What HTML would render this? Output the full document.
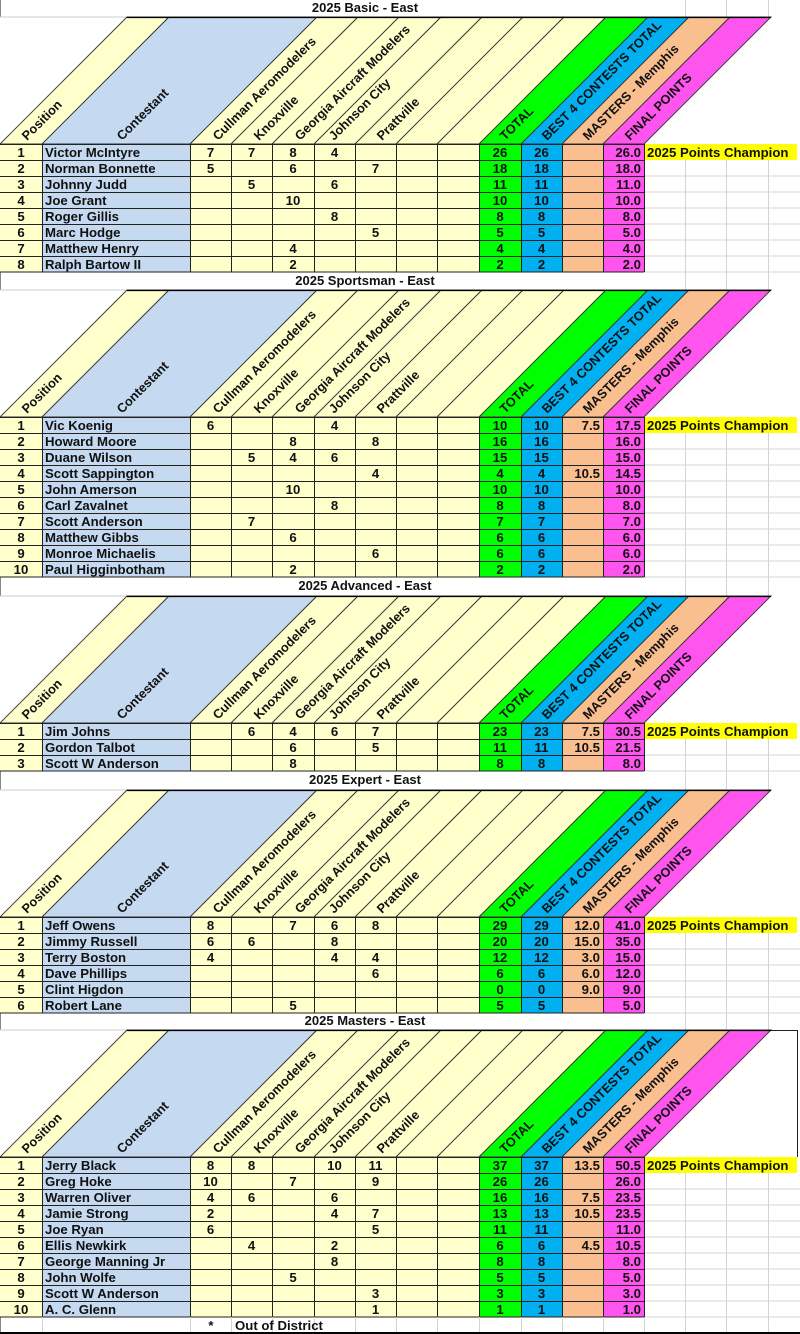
<!DOCTYPE html>
<html><head><meta charset="utf-8"><style>
html,body{margin:0;padding:0;background:#fff;}
svg{display:block;}
text{font-family:"Liberation Sans",Arial,sans-serif;font-weight:bold;font-size:13.2px;fill:#111;}
.c{text-anchor:middle;}
.r{text-anchor:end;}
.t{font-size:13px;text-anchor:middle;}
.h{font-size:12.8px;}
</style></head><body>
<svg width="800" height="1334" viewBox="0 0 800 1334" xmlns="http://www.w3.org/2000/svg">
<defs>
<g id="hd">
<rect x="0" y="0" width="800" height="127" fill="#fff"/>
<line x1="0" y1="0" x2="127" y2="0" stroke="#ccc" stroke-width="1"/>
<g stroke="#333" stroke-width="0.9">
<polygon points="0,127 42,127 169,0 127,0" fill="#FFFFCC"/>
<polygon points="42,127 190,127 317,0 169,0" fill="#C5D9F1"/>
<polygon points="190,127 231,127 358,0 317,0" fill="#FFFFCC"/>
<polygon points="231,127 272,127 399,0 358,0" fill="#FFFFCC"/>
<polygon points="272,127 314,127 441,0 399,0" fill="#FFFFCC"/>
<polygon points="314,127 355,127 482,0 441,0" fill="#FFFFCC"/>
<polygon points="355,127 396,127 523,0 482,0" fill="#FFFFCC"/>
<polygon points="396,127 437,127 564,0 523,0" fill="#FFFFCC"/>
<polygon points="437,127 479,127 606,0 564,0" fill="#FFFFCC"/>
<polygon points="479,127 521,127 648,0 606,0" fill="#00FF00"/>
<polygon points="521,127 562,127 689,0 648,0" fill="#00B0F0"/>
<polygon points="562,127 603,127 730,0 689,0" fill="#FABF8F"/>
<polygon points="603,127 644,127 771,0 730,0" fill="#FF55EE"/>
</g>
<line x1="127" y1="0.5" x2="771" y2="0.5" stroke="#000" stroke-width="1.2"/>
</g>
<g id="ht">
<text class="h" transform="translate(27,124) rotate(-45)">Position</text>
<text class="h" transform="translate(122,124) rotate(-45)">Contestant</text>
<text class="h" transform="translate(218,124) rotate(-45)">Cullman Aeromodelers</text>
<text class="h" transform="translate(259,124) rotate(-45)">Knoxville</text>
<text class="h" transform="translate(300,124) rotate(-45)">Georgia Aircraft Modelers</text>
<text class="h" transform="translate(334,124) rotate(-45)">Johnson City</text>
<text class="h" transform="translate(382,124) rotate(-45)">Prattville</text>
<text class="h" transform="translate(505,124) rotate(-45)">TOTAL</text>
<text class="h" transform="translate(547,124) rotate(-45)">BEST 4 CONTESTS TOTAL</text>
<text class="h" transform="translate(588,124) rotate(-45)">MASTERS - Memphis</text>
<text class="h" transform="translate(630,124) rotate(-45)">FINAL POINTS</text>
</g>
</defs>

<g stroke="#d4d4d4" stroke-width="1">
<line x1="685.5" y1="0" x2="685.5" y2="1334"/>
<line x1="726.5" y1="0" x2="726.5" y2="1334"/>
<line x1="768.5" y1="0" x2="768.5" y2="1334"/>
</g>
<line x1="0.5" y1="0" x2="0.5" y2="1334" stroke="#888"/>

<!-- BASIC -->
<text class="t" x="365" y="12">2025 Basic - East</text>
<use href="#hd" x="0" y="17"/>
<g transform="translate(0,17)"><use href="#ht"/></g>
<g transform="translate(0,144)">
<rect x="0" y="0" width="42" height="128" fill="#FFFFCC"/><rect x="42" y="0" width="148" height="128" fill="#C5D9F1"/><rect x="190" y="0" width="289" height="128" fill="#FFFFCC"/><rect x="479" y="0" width="42" height="128" fill="#00FF00"/><rect x="521" y="0" width="41" height="128" fill="#00B0F0"/><rect x="562" y="0" width="41" height="128" fill="#FABF8F"/><rect x="603" y="0" width="41" height="128" fill="#FF55EE"/>
<rect x="644" y="0" width="153" height="16" fill="#FFFF00"/>
<path d="M644 32H800M644 48H800M644 64H800M644 80H800M644 96H800M644 112H800M644 128H800" stroke="#d4d4d4"/>
<path d="M0 0.5H644M0 16.5H644M0 32.5H644M0 48.5H644M0 64.5H644M0 80.5H644M0 96.5H644M0 112.5H644M0 128H644M42.5 0V128M190.5 0V128M231.5 0V128M272.5 0V128M314.5 0V128M355.5 0V128M396.5 0V128M437.5 0V128M479.5 0V128M521.5 0V128M562.5 0V128M603.5 0V128M644.5 0V128" stroke="#222" fill="none"/>
<text class="c" x="21" y="13">1</text><text x="45" y="13">Victor McIntyre</text><text class="c" x="210.5" y="13">7</text><text class="c" x="251.5" y="13">7</text><text class="c" x="293" y="13">8</text><text class="c" x="334.5" y="13">4</text><text class="c" x="500" y="13">26</text><text class="c" x="541.5" y="13">26</text><text class="r" x="641" y="13">26.0</text><text x="647" y="13">2025 Points Champion</text>
<text class="c" x="21" y="29">2</text><text x="45" y="29">Norman Bonnette</text><text class="c" x="210.5" y="29">5</text><text class="c" x="293" y="29">6</text><text class="c" x="375.5" y="29">7</text><text class="c" x="500" y="29">18</text><text class="c" x="541.5" y="29">18</text><text class="r" x="641" y="29">18.0</text>
<text class="c" x="21" y="45">3</text><text x="45" y="45">Johnny Judd</text><text class="c" x="251.5" y="45">5</text><text class="c" x="334.5" y="45">6</text><text class="c" x="500" y="45">11</text><text class="c" x="541.5" y="45">11</text><text class="r" x="641" y="45">11.0</text>
<text class="c" x="21" y="61">4</text><text x="45" y="61">Joe Grant</text><text class="c" x="293" y="61">10</text><text class="c" x="500" y="61">10</text><text class="c" x="541.5" y="61">10</text><text class="r" x="641" y="61">10.0</text>
<text class="c" x="21" y="77">5</text><text x="45" y="77">Roger Gillis</text><text class="c" x="334.5" y="77">8</text><text class="c" x="500" y="77">8</text><text class="c" x="541.5" y="77">8</text><text class="r" x="641" y="77">8.0</text>
<text class="c" x="21" y="93">6</text><text x="45" y="93">Marc Hodge</text><text class="c" x="375.5" y="93">5</text><text class="c" x="500" y="93">5</text><text class="c" x="541.5" y="93">5</text><text class="r" x="641" y="93">5.0</text>
<text class="c" x="21" y="109">7</text><text x="45" y="109">Matthew Henry</text><text class="c" x="293" y="109">4</text><text class="c" x="500" y="109">4</text><text class="c" x="541.5" y="109">4</text><text class="r" x="641" y="109">4.0</text>
<text class="c" x="21" y="125">8</text><text x="45" y="125">Ralph Bartow II</text><text class="c" x="293" y="125">2</text><text class="c" x="500" y="125">2</text><text class="c" x="541.5" y="125">2</text><text class="r" x="641" y="125">2.0</text>
</g>

<!-- SPORTSMAN -->
<text class="t" x="365" y="285">2025 Sportsman - East</text>
<use href="#hd" x="0" y="290"/>
<g transform="translate(0,290)"><use href="#ht"/></g>
<g transform="translate(0,417)">
<rect x="0" y="0" width="42" height="160" fill="#FFFFCC"/><rect x="42" y="0" width="148" height="160" fill="#C5D9F1"/><rect x="190" y="0" width="289" height="160" fill="#FFFFCC"/><rect x="479" y="0" width="42" height="160" fill="#00FF00"/><rect x="521" y="0" width="41" height="160" fill="#00B0F0"/><rect x="562" y="0" width="41" height="160" fill="#FABF8F"/><rect x="603" y="0" width="41" height="160" fill="#FF55EE"/>
<rect x="644" y="0" width="153" height="16" fill="#FFFF00"/>
<path d="M644 32H800M644 48H800M644 64H800M644 80H800M644 96H800M644 112H800M644 128H800M644 144H800M644 160H800" stroke="#d4d4d4"/>
<path d="M0 0.5H644M0 16.5H644M0 32.5H644M0 48.5H644M0 64.5H644M0 80.5H644M0 96.5H644M0 112.5H644M0 128.5H644M0 144.5H644M0 160H644M42.5 0V160M190.5 0V160M231.5 0V160M272.5 0V160M314.5 0V160M355.5 0V160M396.5 0V160M437.5 0V160M479.5 0V160M521.5 0V160M562.5 0V160M603.5 0V160M644.5 0V160" stroke="#222" fill="none"/>
<text class="c" x="21" y="13">1</text><text x="45" y="13">Vic Koenig</text><text class="c" x="210.5" y="13">6</text><text class="c" x="334.5" y="13">4</text><text class="c" x="500" y="13">10</text><text class="c" x="541.5" y="13">10</text><text class="r" x="600" y="13">7.5</text><text class="r" x="641" y="13">17.5</text><text x="647" y="13">2025 Points Champion</text>
<text class="c" x="21" y="29">2</text><text x="45" y="29">Howard Moore</text><text class="c" x="293" y="29">8</text><text class="c" x="375.5" y="29">8</text><text class="c" x="500" y="29">16</text><text class="c" x="541.5" y="29">16</text><text class="r" x="641" y="29">16.0</text>
<text class="c" x="21" y="45">3</text><text x="45" y="45">Duane Wilson</text><text class="c" x="251.5" y="45">5</text><text class="c" x="293" y="45">4</text><text class="c" x="334.5" y="45">6</text><text class="c" x="500" y="45">15</text><text class="c" x="541.5" y="45">15</text><text class="r" x="641" y="45">15.0</text>
<text class="c" x="21" y="61">4</text><text x="45" y="61">Scott Sappington</text><text class="c" x="375.5" y="61">4</text><text class="c" x="500" y="61">4</text><text class="c" x="541.5" y="61">4</text><text class="r" x="600" y="61">10.5</text><text class="r" x="641" y="61">14.5</text>
<text class="c" x="21" y="77">5</text><text x="45" y="77">John Amerson</text><text class="c" x="293" y="77">10</text><text class="c" x="500" y="77">10</text><text class="c" x="541.5" y="77">10</text><text class="r" x="641" y="77">10.0</text>
<text class="c" x="21" y="93">6</text><text x="45" y="93">Carl Zavalnet</text><text class="c" x="334.5" y="93">8</text><text class="c" x="500" y="93">8</text><text class="c" x="541.5" y="93">8</text><text class="r" x="641" y="93">8.0</text>
<text class="c" x="21" y="109">7</text><text x="45" y="109">Scott Anderson</text><text class="c" x="251.5" y="109">7</text><text class="c" x="500" y="109">7</text><text class="c" x="541.5" y="109">7</text><text class="r" x="641" y="109">7.0</text>
<text class="c" x="21" y="125">8</text><text x="45" y="125">Matthew Gibbs</text><text class="c" x="293" y="125">6</text><text class="c" x="500" y="125">6</text><text class="c" x="541.5" y="125">6</text><text class="r" x="641" y="125">6.0</text>
<text class="c" x="21" y="141">9</text><text x="45" y="141">Monroe Michaelis</text><text class="c" x="375.5" y="141">6</text><text class="c" x="500" y="141">6</text><text class="c" x="541.5" y="141">6</text><text class="r" x="641" y="141">6.0</text>
<text class="c" x="21" y="157">10</text><text x="45" y="157">Paul Higginbotham</text><text class="c" x="293" y="157">2</text><text class="c" x="500" y="157">2</text><text class="c" x="541.5" y="157">2</text><text class="r" x="641" y="157">2.0</text>
</g>

<!-- ADVANCED -->
<text class="t" x="365" y="590">2025 Advanced - East</text>
<use href="#hd" x="0" y="596"/>
<g transform="translate(0,596)"><use href="#ht"/></g>
<g transform="translate(0,723)">
<rect x="0" y="0" width="42" height="48" fill="#FFFFCC"/><rect x="42" y="0" width="148" height="48" fill="#C5D9F1"/><rect x="190" y="0" width="289" height="48" fill="#FFFFCC"/><rect x="479" y="0" width="42" height="48" fill="#00FF00"/><rect x="521" y="0" width="41" height="48" fill="#00B0F0"/><rect x="562" y="0" width="41" height="48" fill="#FABF8F"/><rect x="603" y="0" width="41" height="48" fill="#FF55EE"/>
<rect x="644" y="0" width="153" height="16" fill="#FFFF00"/>
<path d="M644 32H800M644 48H800" stroke="#d4d4d4"/>
<path d="M0 0.5H644M0 16.5H644M0 32.5H644M0 48H644M42.5 0V48M190.5 0V48M231.5 0V48M272.5 0V48M314.5 0V48M355.5 0V48M396.5 0V48M437.5 0V48M479.5 0V48M521.5 0V48M562.5 0V48M603.5 0V48M644.5 0V48" stroke="#222" fill="none"/>
<text class="c" x="21" y="13">1</text><text x="45" y="13">Jim Johns</text><text class="c" x="251.5" y="13">6</text><text class="c" x="293" y="13">4</text><text class="c" x="334.5" y="13">6</text><text class="c" x="375.5" y="13">7</text><text class="c" x="500" y="13">23</text><text class="c" x="541.5" y="13">23</text><text class="r" x="600" y="13">7.5</text><text class="r" x="641" y="13">30.5</text><text x="647" y="13">2025 Points Champion</text>
<text class="c" x="21" y="29">2</text><text x="45" y="29">Gordon Talbot</text><text class="c" x="293" y="29">6</text><text class="c" x="375.5" y="29">5</text><text class="c" x="500" y="29">11</text><text class="c" x="541.5" y="29">11</text><text class="r" x="600" y="29">10.5</text><text class="r" x="641" y="29">21.5</text>
<text class="c" x="21" y="45">3</text><text x="45" y="45">Scott W Anderson</text><text class="c" x="293" y="45">8</text><text class="c" x="500" y="45">8</text><text class="c" x="541.5" y="45">8</text><text class="r" x="641" y="45">8.0</text>
</g>

<!-- EXPERT -->
<text class="t" x="365" y="784">2025 Expert - East</text>
<use href="#hd" x="0" y="790"/>
<g transform="translate(0,790)"><use href="#ht"/></g>
<g transform="translate(0,917)">
<rect x="0" y="0" width="42" height="96" fill="#FFFFCC"/><rect x="42" y="0" width="148" height="96" fill="#C5D9F1"/><rect x="190" y="0" width="289" height="96" fill="#FFFFCC"/><rect x="479" y="0" width="42" height="96" fill="#00FF00"/><rect x="521" y="0" width="41" height="96" fill="#00B0F0"/><rect x="562" y="0" width="41" height="96" fill="#FABF8F"/><rect x="603" y="0" width="41" height="96" fill="#FF55EE"/>
<rect x="644" y="0" width="153" height="16" fill="#FFFF00"/>
<path d="M644 32H800M644 48H800M644 64H800M644 80H800M644 96H800" stroke="#d4d4d4"/>
<path d="M0 0.5H644M0 16.5H644M0 32.5H644M0 48.5H644M0 64.5H644M0 80.5H644M0 96H644M42.5 0V96M190.5 0V96M231.5 0V96M272.5 0V96M314.5 0V96M355.5 0V96M396.5 0V96M437.5 0V96M479.5 0V96M521.5 0V96M562.5 0V96M603.5 0V96M644.5 0V96" stroke="#222" fill="none"/>
<text class="c" x="21" y="13">1</text><text x="45" y="13">Jeff Owens</text><text class="c" x="210.5" y="13">8</text><text class="c" x="293" y="13">7</text><text class="c" x="334.5" y="13">6</text><text class="c" x="375.5" y="13">8</text><text class="c" x="500" y="13">29</text><text class="c" x="541.5" y="13">29</text><text class="r" x="600" y="13">12.0</text><text class="r" x="641" y="13">41.0</text><text x="647" y="13">2025 Points Champion</text>
<text class="c" x="21" y="29">2</text><text x="45" y="29">Jimmy Russell</text><text class="c" x="210.5" y="29">6</text><text class="c" x="251.5" y="29">6</text><text class="c" x="334.5" y="29">8</text><text class="c" x="500" y="29">20</text><text class="c" x="541.5" y="29">20</text><text class="r" x="600" y="29">15.0</text><text class="r" x="641" y="29">35.0</text>
<text class="c" x="21" y="45">3</text><text x="45" y="45">Terry Boston</text><text class="c" x="210.5" y="45">4</text><text class="c" x="334.5" y="45">4</text><text class="c" x="375.5" y="45">4</text><text class="c" x="500" y="45">12</text><text class="c" x="541.5" y="45">12</text><text class="r" x="600" y="45">3.0</text><text class="r" x="641" y="45">15.0</text>
<text class="c" x="21" y="61">4</text><text x="45" y="61">Dave Phillips</text><text class="c" x="375.5" y="61">6</text><text class="c" x="500" y="61">6</text><text class="c" x="541.5" y="61">6</text><text class="r" x="600" y="61">6.0</text><text class="r" x="641" y="61">12.0</text>
<text class="c" x="21" y="77">5</text><text x="45" y="77">Clint Higdon</text><text class="c" x="500" y="77">0</text><text class="c" x="541.5" y="77">0</text><text class="r" x="600" y="77">9.0</text><text class="r" x="641" y="77">9.0</text>
<text class="c" x="21" y="93">6</text><text x="45" y="93">Robert Lane</text><text class="c" x="293" y="93">5</text><text class="c" x="500" y="93">5</text><text class="c" x="541.5" y="93">5</text><text class="r" x="641" y="93">5.0</text>
</g>

<!-- MASTERS -->
<text class="t" x="365" y="1025">2025 Masters - East</text>
<use href="#hd" x="0" y="1030"/>
<g transform="translate(0,1030)"><use href="#ht"/></g>
<path d="M771 1030.5H797.5V1157" stroke="#222" fill="none"/>
<g transform="translate(0,1157)">
<rect x="0" y="0" width="42" height="160" fill="#FFFFCC"/><rect x="42" y="0" width="148" height="160" fill="#C5D9F1"/><rect x="190" y="0" width="289" height="160" fill="#FFFFCC"/><rect x="479" y="0" width="42" height="160" fill="#00FF00"/><rect x="521" y="0" width="41" height="160" fill="#00B0F0"/><rect x="562" y="0" width="41" height="160" fill="#FABF8F"/><rect x="603" y="0" width="41" height="160" fill="#FF55EE"/>
<rect x="644" y="0" width="153" height="16" fill="#FFFF00"/>
<path d="M644 32H800M644 48H800M644 64H800M644 80H800M644 96H800M644 112H800M644 128H800M644 144H800M644 160H800" stroke="#d4d4d4"/>
<path d="M0 0.5H644M0 16.5H644M0 32.5H644M0 48.5H644M0 64.5H644M0 80.5H644M0 96.5H644M0 112.5H644M0 128.5H644M0 144.5H644M0 160H644M42.5 0V160M190.5 0V160M231.5 0V160M272.5 0V160M314.5 0V160M355.5 0V160M396.5 0V160M437.5 0V160M479.5 0V160M521.5 0V160M562.5 0V160M603.5 0V160M644.5 0V160" stroke="#222" fill="none"/>
<text class="c" x="21" y="13">1</text><text x="45" y="13">Jerry Black</text><text class="c" x="210.5" y="13">8</text><text class="c" x="251.5" y="13">8</text><text class="c" x="334.5" y="13">10</text><text class="c" x="375.5" y="13">11</text><text class="c" x="500" y="13">37</text><text class="c" x="541.5" y="13">37</text><text class="r" x="600" y="13">13.5</text><text class="r" x="641" y="13">50.5</text><text x="647" y="13">2025 Points Champion</text>
<text class="c" x="21" y="29">2</text><text x="45" y="29">Greg Hoke</text><text class="c" x="210.5" y="29">10</text><text class="c" x="293" y="29">7</text><text class="c" x="375.5" y="29">9</text><text class="c" x="500" y="29">26</text><text class="c" x="541.5" y="29">26</text><text class="r" x="641" y="29">26.0</text>
<text class="c" x="21" y="45">3</text><text x="45" y="45">Warren Oliver</text><text class="c" x="210.5" y="45">4</text><text class="c" x="251.5" y="45">6</text><text class="c" x="334.5" y="45">6</text><text class="c" x="500" y="45">16</text><text class="c" x="541.5" y="45">16</text><text class="r" x="600" y="45">7.5</text><text class="r" x="641" y="45">23.5</text>
<text class="c" x="21" y="61">4</text><text x="45" y="61">Jamie Strong</text><text class="c" x="210.5" y="61">2</text><text class="c" x="334.5" y="61">4</text><text class="c" x="375.5" y="61">7</text><text class="c" x="500" y="61">13</text><text class="c" x="541.5" y="61">13</text><text class="r" x="600" y="61">10.5</text><text class="r" x="641" y="61">23.5</text>
<text class="c" x="21" y="77">5</text><text x="45" y="77">Joe Ryan</text><text class="c" x="210.5" y="77">6</text><text class="c" x="375.5" y="77">5</text><text class="c" x="500" y="77">11</text><text class="c" x="541.5" y="77">11</text><text class="r" x="641" y="77">11.0</text>
<text class="c" x="21" y="93">6</text><text x="45" y="93">Ellis Newkirk</text><text class="c" x="251.5" y="93">4</text><text class="c" x="334.5" y="93">2</text><text class="c" x="500" y="93">6</text><text class="c" x="541.5" y="93">6</text><text class="r" x="600" y="93">4.5</text><text class="r" x="641" y="93">10.5</text>
<text class="c" x="21" y="109">7</text><text x="45" y="109">George Manning Jr</text><text class="c" x="334.5" y="109">8</text><text class="c" x="500" y="109">8</text><text class="c" x="541.5" y="109">8</text><text class="r" x="641" y="109">8.0</text>
<text class="c" x="21" y="125">8</text><text x="45" y="125">John Wolfe</text><text class="c" x="293" y="125">5</text><text class="c" x="500" y="125">5</text><text class="c" x="541.5" y="125">5</text><text class="r" x="641" y="125">5.0</text>
<text class="c" x="21" y="141">9</text><text x="45" y="141">Scott W Anderson</text><text class="c" x="375.5" y="141">3</text><text class="c" x="500" y="141">3</text><text class="c" x="541.5" y="141">3</text><text class="r" x="641" y="141">3.0</text>
<text class="c" x="21" y="157">10</text><text x="45" y="157">A. C. Glenn</text><text class="c" x="375.5" y="157">1</text><text class="c" x="500" y="157">1</text><text class="c" x="541.5" y="157">1</text><text class="r" x="641" y="157">1.0</text>
</g>

<path d="M42.5 1317V1333M190.5 1317V1333M231.5 1317V1333M272.5 1317V1333M314.5 1317V1333M355.5 1317V1333M396.5 1317V1333M437.5 1317V1333M479.5 1317V1333M521.5 1317V1333M562.5 1317V1333M603.5 1317V1333M644.5 1317V1333" stroke="#d4d4d4"/>
<text class="c" x="211" y="1330">*</text>
<text x="235" y="1330">Out of District</text>
<line x1="0" y1="1333" x2="800" y2="1333" stroke="#000" stroke-width="2"/>
</svg>
</body></html>
